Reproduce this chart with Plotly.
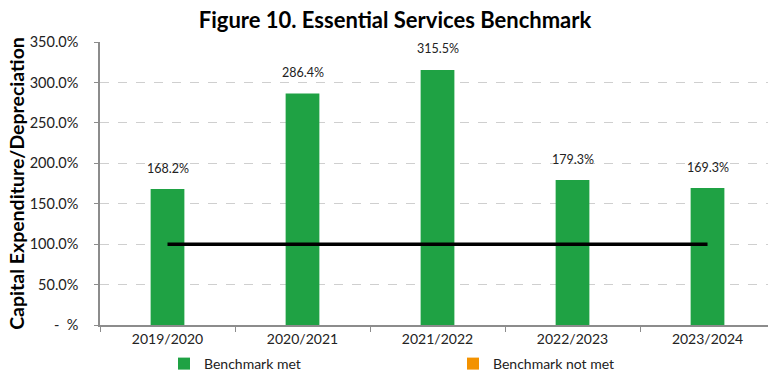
import plotly.graph_objects as go

# Essential services benchmark: capital expenditure as a % of depreciation
years = ["2019/2020", "2020/2021", "2021/2022", "2022/2023", "2023/2024"]
met_values = [168.2, 286.4, 315.5, 179.3, 169.3]
not_met_values = [None, None, None, None, None]
benchmark = [100, 100, 100, 100, 100]

y_ticks = [0, 50, 100, 150, 200, 250, 300, 350]
y_tick_text = ["-  %", "50.0%", "100.0%", "150.0%", "200.0%", "250.0%", "300.0%", "350.0%"]

GREEN = "#1FA244"
ORANGE = "#F39200"
FONT = "Lato, 'Open Sans', sans-serif"

fig = go.Figure()

fig.add_trace(go.Bar(
    x=years, y=met_values, name="Benchmark met", legend="legend",
    marker=dict(color=GREEN, line=dict(width=0)), width=0.25,
))
fig.add_trace(go.Bar(
    x=years, y=not_met_values, name="Benchmark not met", legend="legend2",
    marker=dict(color=ORANGE, line=dict(width=0)), width=0.25,
))
fig.add_trace(go.Scatter(
    x=years, y=benchmark, mode="lines", showlegend=False,
    line=dict(color="black", width=3.5), hoverinfo="skip",
))

# value labels above each bar
for yr, v in zip(years, met_values):
    fig.add_annotation(
        x=yr, y=v, text=f"{v:.1f}%", showarrow=False,
        yshift=21, font=dict(size=12.5, color="#222", family=FONT),
    )

PLOT_L, PLOT_W, PLOT_B, PLOT_H = 100, 668, 325, 283
legend_style = dict(
    orientation="h", yanchor="middle", xanchor="left",
    y=(PLOT_B - 364) / PLOT_H,
    font=dict(size=14, family=FONT, color="#222"),
    itemwidth=30, bgcolor="rgba(0,0,0,0)",
)

fig.update_layout(
    width=768, height=371,
    margin=dict(l=100, r=0, t=42, b=46, autoexpand=False),
    paper_bgcolor="white", plot_bgcolor="white",
    barmode="overlay",
    title=dict(
        text="<b>Figure 10. Essential Services Benchmark</b>",
        x=395 / 768, xanchor="center", y=0.945, yanchor="middle",
        font=dict(size=22, color="black", family=FONT),
    ),
    font=dict(family=FONT, color="#222"),
    legend=dict(legend_style, x=(164 - PLOT_L) / PLOT_W),
    legend2=dict(legend_style, x=(453 - PLOT_L) / PLOT_W),
    showlegend=True,
)

fig.update_xaxes(
    type="category", range=[-0.5, 4.448],
    showline=True, linecolor="#8c8c8c", linewidth=1.5,
    ticks="outside", tickson="boundaries", ticklen=5, tickcolor="#8c8c8c",
    tickfont=dict(size=14, family=FONT, color="#222"),
    showgrid=False,
)
fig.update_yaxes(
    range=[0, 350], tickvals=y_ticks, ticktext=y_tick_text,
    showline=True, linecolor="#8c8c8c", linewidth=1.5,
    ticks="outside", ticklen=4, tickcolor="#8c8c8c",
    ticklabelstandoff=13,
    tickfont=dict(size=14.5, family=FONT, color="#222"),
    showgrid=True, gridcolor="#cfcfcf", griddash="dash", gridwidth=1,
    zeroline=False,
    title=dict(text="<b>Capital Expenditure/Depreciation</b>",
               font=dict(size=19.5, family=FONT, color="black"), standoff=0),
)

fig.write_html("out.html")
